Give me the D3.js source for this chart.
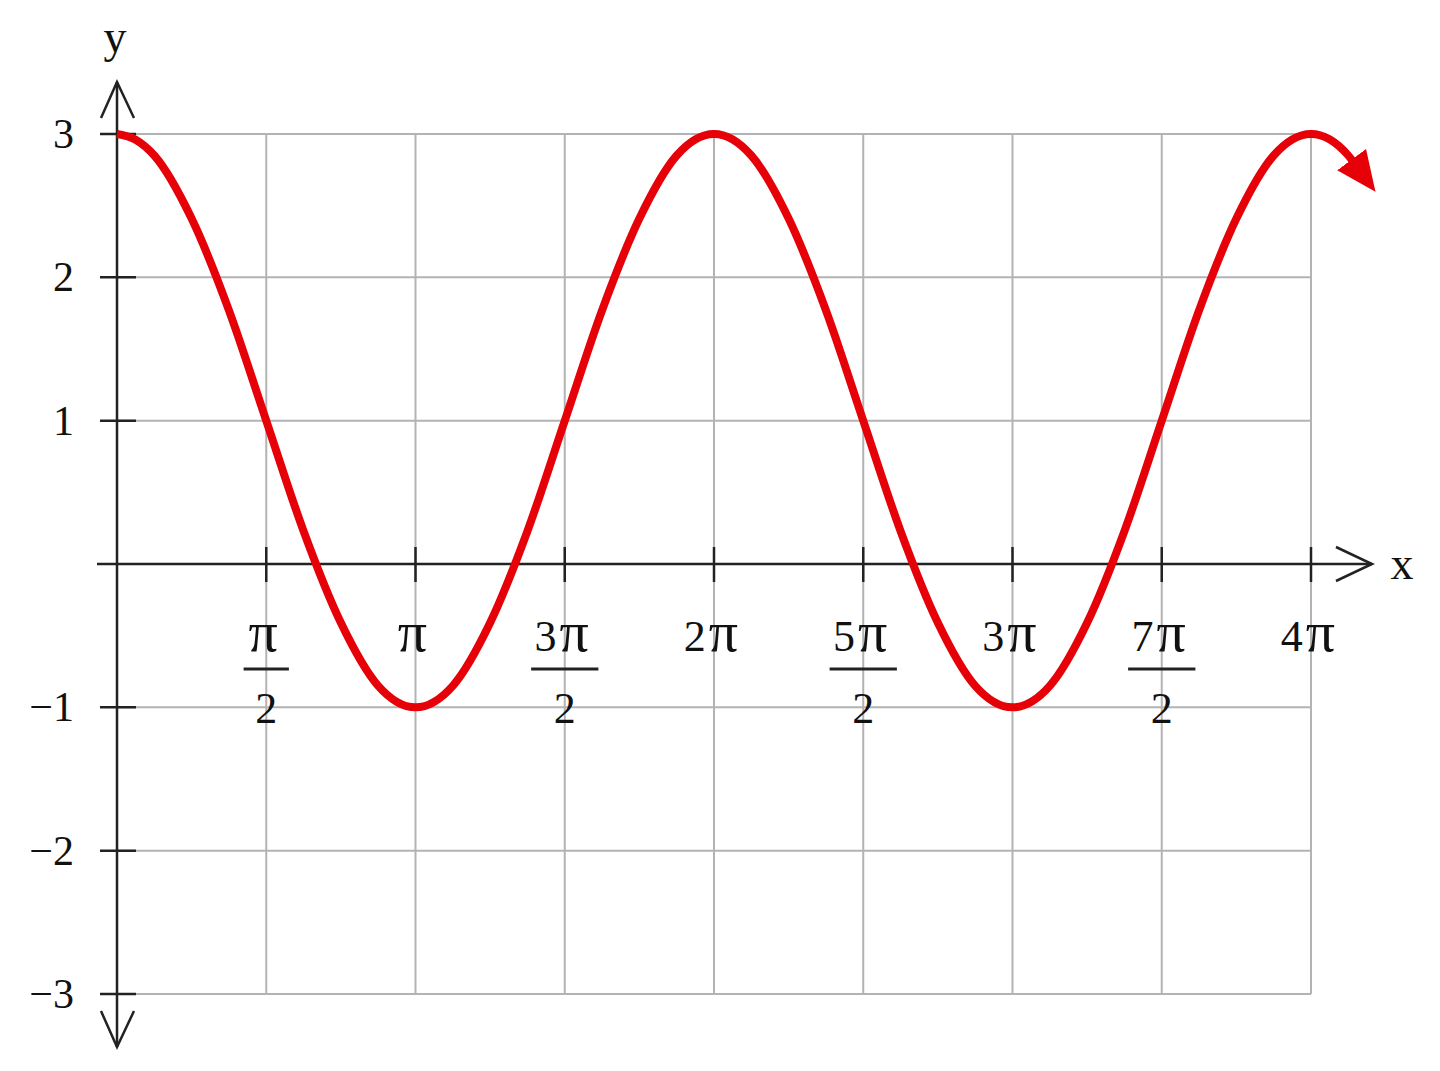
<!DOCTYPE html>
<html>
<head>
<meta charset="utf-8">
<script src="https://cdn.jsdelivr.net/npm/d3@7"></script>
<style>
  body { margin: 0; background: #fff; }
  svg text { font-family: "Liberation Serif", "DejaVu Serif", serif; fill: #111; }
</style>
</head>
<body>
<div id="chart"></div>
<script>
// x values are in multiples of pi
var xTicks = [0.5, 1, 1.5, 2, 2.5, 3, 3.5, 4];
var xTickCoef = ["", "", "3", "2", "5", "3", "7", "4"];
var xTickDen = ["2", "", "2", "", "2", "", "2", ""];
var yTicks = [3, 2, 1, -1, -2, -3];
var yTickLabels = ["3", "2", "1", "\u22121", "\u22122", "\u22123"];

// red curve at steps of pi/8
var curveX = [0, 0.0625, 0.125, 0.25, 0.375, 0.5, 0.625, 0.75, 0.875,
  1, 1.125, 1.25, 1.375, 1.5, 1.625, 1.75, 1.875,
  2, 2.125, 2.25, 2.375, 2.5, 2.625, 2.75, 2.875,
  3, 3.125, 3.25, 3.375, 3.5, 3.625, 3.75, 3.875,
  4, 4.125, 4.14];
var curveY = [3, 2.96, 2.85, 2.41, 1.77, 1, 0.23, -0.41, -0.85,
  -1, -0.85, -0.41, 0.23, 1, 1.77, 2.41, 2.85,
  3, 2.85, 2.41, 1.77, 1, 0.23, -0.41, -0.85,
  -1, -0.85, -0.41, 0.23, 1, 1.77, 2.41, 2.85,
  3, 2.85, 2.81];

var width = 1440, height = 1071;
var red = "#e60008";

var x = d3.scaleLinear().domain([0, 4]).range([117, 1311]);
var y = d3.scaleLinear().domain([-3, 3]).range([994, 134]);

var svg = d3.select("#chart").append("svg")
  .attr("width", width)
  .attr("height", height);

svg.append("defs").append("marker")
  .attr("id", "head")
  .attr("markerUnits", "userSpaceOnUse")
  .attr("viewBox", "0 -20 44 40")
  .attr("refX", 2)
  .attr("refY", 0)
  .attr("markerWidth", 44)
  .attr("markerHeight", 40)
  .attr("orient", "auto")
  .append("path")
  .attr("d", "M0,-18L40,0L0,18Z")
  .attr("fill", red);

// grid
var grid = svg.append("g").attr("stroke", "#b3b3b3").attr("stroke-width", 2);
grid.selectAll("line.v").data(xTicks).enter().append("line")
  .attr("x1", x).attr("x2", x)
  .attr("y1", y(3)).attr("y2", y(-3));
grid.selectAll("line.h").data(yTicks).enter().append("line")
  .attr("x1", x(0)).attr("x2", x(4))
  .attr("y1", y).attr("y2", y);

// axes
var axes = svg.append("g").attr("stroke", "#222").attr("stroke-width", 2.5)
  .attr("fill", "none");
var x0 = x(0), y0 = y(0);
axes.append("line").attr("x1", x0).attr("x2", x0)
  .attr("y1", y(3) - 52).attr("y2", y(-3) + 53);
axes.append("line").attr("x1", x0 - 20).attr("x2", x(4) + 61)
  .attr("y1", y0).attr("y2", y0);
axes.append("path")
  .attr("d", "M" + (x0 - 16) + "," + (y(3) - 16) + "L" + x0 + "," + (y(3) - 52) +
    "L" + (x0 + 17) + "," + (y(3) - 16));
axes.append("path")
  .attr("d", "M" + (x0 - 16) + "," + (y(-3) + 17) + "L" + x0 + "," + (y(-3) + 53) +
    "L" + (x0 + 17) + "," + (y(-3) + 17));
axes.append("path")
  .attr("d", "M" + (x(4) + 25) + "," + (y0 - 17) + "L" + (x(4) + 61) + "," + y0 +
    "L" + (x(4) + 25) + "," + (y0 + 17));

// ticks
axes.selectAll("line.yt").data(yTicks).enter().append("line")
  .attr("x1", x0 - 17).attr("x2", x0 + 19)
  .attr("y1", y).attr("y2", y);
axes.selectAll("line.xt").data(xTicks).enter().append("line")
  .attr("x1", x).attr("x2", x)
  .attr("y1", y0 - 17).attr("y2", y0 + 18);

// y labels
svg.selectAll("text.yl").data(yTicks).enter().append("text")
  .attr("x", x0 - 43)
  .attr("y", function(d) { return y(d) + 14; })
  .attr("text-anchor", "end")
  .attr("font-size", 42)
  .text(function(d, i) { return yTickLabels[i]; });

// x labels: coefficient + a larger pi, with fraction bar where needed
var xl = svg.selectAll("g.xl").data(xTicks).enter().append("g")
  .attr("transform", function(d) { return "translate(" + (x(d) - 3) + ",0)"; });
var num = xl.append("text")
  .attr("y", y0 + 87)
  .attr("text-anchor", "middle")
  .attr("font-size", 44);
num.append("tspan").text(function(d, i) { return xTickCoef[i]; });
num.append("tspan")
  .attr("dx", function(d, i) { return xTickCoef[i] ? 3 : 0; })
  .attr("font-size", 58)
  .text("π");
xl.each(function(d, i) {
  if (!xTickDen[i]) return;
  var g = d3.select(this);
  var w = g.select("text").node().getComputedTextLength() + 16;
  g.append("line")
    .attr("x1", -w / 2 + 3).attr("x2", w / 2 + 3)
    .attr("y1", y0 + 105).attr("y2", y0 + 105)
    .attr("stroke", "#222").attr("stroke-width", 3);
  g.append("text")
    .attr("x", 3)
    .attr("y", y0 + 159)
    .attr("text-anchor", "middle")
    .attr("font-size", 44)
    .text(xTickDen[i]);
});

// axis names
svg.append("text").attr("x", x0 - 2).attr("y", 52)
  .attr("text-anchor", "middle").attr("font-size", 46).text("y");
svg.append("text").attr("x", x(4) + 91).attr("y", y0 + 15)
  .attr("text-anchor", "middle").attr("font-size", 46).text("x");

// curve
var line = d3.line()
  .x(function(d) { return x(d[0]); })
  .y(function(d) { return y(d[1]); })
  .curve(d3.curveMonotoneX);
svg.append("path")
  .datum(curveX.map(function(v, i) { return [v, curveY[i]]; }))
  .attr("d", line)
  .attr("fill", "none")
  .attr("stroke", red)
  .attr("stroke-width", 8)
  .attr("marker-end", "url(#head)");
</script>
</body>
</html>
